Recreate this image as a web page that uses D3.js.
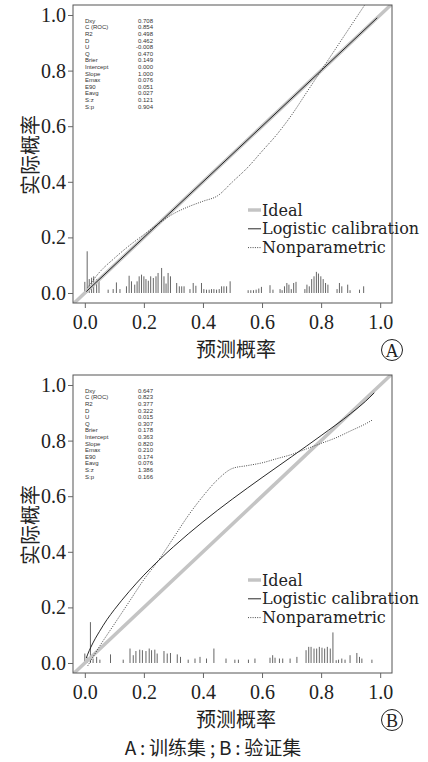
<!DOCTYPE html>
<html><head><meta charset="utf-8">
<script src="https://cdn.jsdelivr.net/npm/d3@7"></script>
<style>
html,body{margin:0;padding:0;background:#fff;}
svg{display:block;}
</style></head>
<body>
<script>
// ---------- data ----------
const statNames = ["Dxy","C (ROC)","R2","D","U","Q","Brier","Intercept","Slope","Emax","E90","Eavg","S:z","S:p"];
const statsA = ["0.708","0.854","0.498","0.462","-0.008","0.470","0.149","0.000","1.000","0.076","0.051","0.027","0.121","0.904"];
const statsB = ["0.647","0.823","0.377","0.322","0.015","0.307","0.178","0.363","0.820","0.210","0.174","0.076","1.386","0.166"];
const tickVals = [0,0.2,0.4,0.6,0.8,1.0];
const legendLabels = ["Ideal","Logistic calibration","Nonparametric"];

// panel A curves
const logAx = [0.005,0.99];
const logAy = [0.005,0.99];
const npAx = [0.01,0.05,0.10,0.15,0.20,0.25,0.30,0.35,0.40,0.45,0.50,0.55,0.60,0.65,0.70,0.75,0.80,0.85,0.90,0.95];
const npAy = [0.02,0.075,0.125,0.17,0.21,0.25,0.285,0.31,0.33,0.35,0.40,0.45,0.51,0.57,0.64,0.72,0.80,0.88,0.96,1.04];
// panel A spikes
const spAx = [0.000,0.008,0.015,0.023,0.030,0.040,0.048,0.079,0.096,0.107,0.119,0.141,0.150,0.158,0.169,0.177,0.184,0.192,0.200,0.207,0.215,0.223,0.232,0.241,0.248,0.260,0.268,0.275,0.282,0.290,0.311,0.320,0.328,0.336,0.356,0.367,0.376,0.395,0.403,0.412,0.421,0.429,0.437,0.446,0.455,0.463,0.471,0.480,0.492,0.553,0.562,0.571,0.580,0.589,0.598,0.627,0.637,0.661,0.668,0.676,0.684,0.691,0.699,0.707,0.715,0.745,0.752,0.760,0.768,0.776,0.784,0.791,0.799,0.807,0.815,0.823,0.854,0.862,0.870,0.890,0.898,0.930,0.944];
const spAh = [0.040,0.150,0.050,0.055,0.060,0.050,0.050,0.012,0.014,0.038,0.014,0.024,0.062,0.042,0.030,0.042,0.060,0.066,0.060,0.050,0.044,0.060,0.054,0.060,0.072,0.090,0.060,0.034,0.072,0.060,0.036,0.024,0.024,0.024,0.014,0.036,0.026,0.036,0.014,0.012,0.012,0.014,0.014,0.012,0.014,0.024,0.024,0.024,0.042,0.010,0.010,0.010,0.012,0.016,0.022,0.028,0.012,0.014,0.010,0.024,0.036,0.030,0.014,0.036,0.040,0.014,0.030,0.024,0.050,0.060,0.076,0.070,0.060,0.050,0.036,0.030,0.014,0.036,0.024,0.030,0.010,0.012,0.024];

// panel B curves
const logBx = [0.005,0.01,0.02,0.035,0.05,0.075,0.10,0.15,0.20,0.25,0.30,0.40,0.50,0.60,0.70,0.80,0.90,0.95,0.98];
const logBy = [0.018,0.032,0.056,0.087,0.114,0.156,0.192,0.257,0.316,0.369,0.418,0.508,0.590,0.667,0.742,0.818,0.897,0.941,0.972];
const npBx = [0.01,0.05,0.10,0.15,0.20,0.25,0.30,0.35,0.40,0.45,0.50,0.55,0.60,0.65,0.70,0.75,0.80,0.85,0.90,0.95,0.975];
const npBy = [-0.01,0.06,0.14,0.22,0.30,0.37,0.45,0.53,0.60,0.66,0.70,0.71,0.72,0.735,0.75,0.77,0.79,0.81,0.835,0.86,0.875];
// panel B spikes
const spBx = [0.000,0.008,0.019,0.028,0.040,0.051,0.087,0.130,0.153,0.164,0.173,0.186,0.195,0.207,0.218,0.226,0.237,0.245,0.268,0.279,0.290,0.313,0.324,0.350,0.373,0.390,0.412,0.437,0.478,0.508,0.520,0.554,0.576,0.627,0.636,0.644,0.659,0.670,0.695,0.718,0.749,0.758,0.766,0.776,0.785,0.794,0.803,0.812,0.821,0.831,0.840,0.851,0.859,0.870,0.881,0.898,0.921,0.930,0.938,0.972];
const spBh = [0.034,0.020,0.147,0.016,0.022,0.012,0.031,0.012,0.052,0.028,0.043,0.048,0.046,0.043,0.052,0.046,0.048,0.034,0.043,0.034,0.036,0.031,0.022,0.012,0.016,0.022,0.016,0.052,0.016,0.012,0.012,0.012,0.016,0.019,0.028,0.019,0.016,0.016,0.016,0.022,0.046,0.058,0.058,0.052,0.052,0.058,0.055,0.052,0.058,0.052,0.110,0.010,0.012,0.016,0.012,0.028,0.036,0.022,0.016,0.012];

// ---------- drawing ----------
const W = 428, H = 762;
const svg = d3.select("body").append("svg").attr("width", W).attr("height", H);
const serif = "'Liberation Serif', 'Times New Roman', serif";
const wideSerif = "'DejaVu Serif', serif";
const cjk = "'Noto Sans CJK SC', sans-serif";

const x = d3.scaleLinear().domain([-0.04, 1.04]).range([73, 392]);

function panel(dy, letter, stats, logX, logY, npX, npY, spX, spH, id) {
  const y = d3.scaleLinear().domain([-0.036, 1.036]).range([303 + dy, 5 + dy]);
  const g = svg.append("g");
  const clipId = "clip" + id;
  g.append("clipPath").attr("id", clipId).append("rect")
    .attr("x", 73).attr("y", 5 + dy).attr("width", 319).attr("height", 298);
  const pg = g.append("g").attr("clip-path", `url(#${clipId})`);

  // spikes
  pg.selectAll("line.sp").data(spX).enter().append("line")
    .attr("x1", d => x(d)).attr("x2", d => x(d))
    .attr("y1", y(0)).attr("y2", (d, i) => y(spH[i]))
    .attr("stroke", "#555").attr("stroke-width", 0.9);

  // ideal
  pg.append("line").attr("x1", x(-0.04)).attr("y1", y(-0.04)).attr("x2", x(1.04)).attr("y2", y(1.04))
    .attr("stroke", "#c4c4c4").attr("stroke-width", 3.5);

  const line = d3.line().x(d => x(d[0])).y(d => y(d[1])).curve(d3.curveMonotoneX);
  pg.append("path").datum(logX.map((v, i) => [v, logY[i]])).attr("d", line)
    .attr("fill", "none").attr("stroke", "#111").attr("stroke-width", 0.9);
  pg.append("path").datum(npX.map((v, i) => [v, npY[i]])).attr("d", line)
    .attr("fill", "none").attr("stroke", "#333").attr("stroke-width", 0.9).attr("stroke-dasharray", "1,1.3");

  // box
  g.append("rect").attr("x", 73).attr("y", 5 + dy).attr("width", 319).attr("height", 298)
    .attr("fill", "none").attr("stroke", "#555").attr("stroke-width", 1);

  // axes
  const ax = g.append("g").attr("transform", `translate(0,${303 + dy})`)
    .call(d3.axisBottom(x).tickValues(tickVals).tickFormat(d3.format(".1f")).tickSize(5).tickPadding(7));
  ax.select(".domain").remove();
  ax.selectAll("line").attr("stroke", "#666");
  ax.selectAll("text").attr("font-family", serif).attr("font-size", 20).attr("fill", "#222");

  const ay = g.append("g").attr("transform", `translate(73,0)`)
    .call(d3.axisLeft(y).tickValues(tickVals).tickFormat(d3.format(".1f")).tickSize(5).tickPadding(2));
  ay.select(".domain").remove();
  ay.selectAll("line").attr("stroke", "#666");
  ay.selectAll("text").attr("font-family", serif).attr("font-size", 20).attr("fill", "#222");

  // titles
  g.append("text").attr("x", 236).attr("y", 357 + dy).attr("text-anchor", "middle")
    .attr("font-family", cjk).attr("font-size", 20).attr("fill", "#222").text("预测概率");
  g.append("text").attr("transform", `translate(38,${155 + dy}) rotate(-90)`).attr("text-anchor", "middle")
    .attr("font-family", cjk).attr("font-size", 20).attr("fill", "#222").text("实际概率");

  // circled letter
  g.append("circle").attr("cx", 392).attr("cy", 350 + dy).attr("r", 10.5)
    .attr("fill", "none").attr("stroke", "#222").attr("stroke-width", 1);
  g.append("text").attr("x", 392).attr("y", 356.5 + dy).attr("text-anchor", "middle")
    .attr("font-family", serif).attr("font-size", 18).attr("fill", "#222").text(letter);

  // stats
  const st = g.append("g").attr("font-family", "'Liberation Sans', Arial, sans-serif").attr("font-size", 6).attr("fill", "#333");
  statNames.forEach((n, i) => {
    st.append("text").attr("x", 85).attr("y", 22.8 + i * 6.6 + dy).text(n);
    st.append("text").attr("x", 153).attr("y", 22.8 + i * 6.6 + dy).attr("text-anchor", "end").text(stats[i]);
  });

  // legend
  const lg = g.append("g");
  const ly = [215.5, 234.3, 253.1];
  legendLabels.forEach((t, i) => {
    const ln = lg.append("line").attr("x1", 248).attr("x2", 261)
      .attr("y1", ly[i] - 5.5 + dy).attr("y2", ly[i] - 5.5 + dy);
    if (i === 0) ln.attr("stroke", "#c4c4c4").attr("stroke-width", 3.5);
    if (i === 1) ln.attr("stroke", "#111").attr("stroke-width", 0.9);
    if (i === 2) ln.attr("stroke", "#333").attr("stroke-width", 0.9).attr("stroke-dasharray", "1,1.3");
    lg.append("text").attr("x", 262).attr("y", ly[i] + dy).attr("font-family", wideSerif)
      .attr("font-size", 16).attr("fill", "#222").text(t);
  });
}

panel(0, "A", statsA, logAx, logAy, npAx, npAy, spAx, spAh, "a");
panel(370, "B", statsB, logBx, logBy, npBx, npBy, spBx, spBh, "b");

svg.append("text").attr("x", 213).attr("y", 755).attr("text-anchor", "middle")
  .attr("font-family", cjk).attr("font-size", 19).attr("fill", "#222")
  .text("A\u2009:\u2009训练集\u2009;\u2009B\u2009:\u2009验证集");
</script>
</body></html>
